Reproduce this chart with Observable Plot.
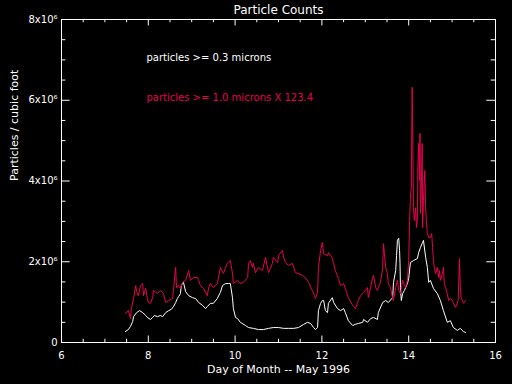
<!DOCTYPE html>
<html><head><meta charset="utf-8">
<script src="https://cdn.jsdelivr.net/npm/d3@7"></script>
<script src="https://cdn.jsdelivr.net/npm/@observablehq/plot@0.6"></script>
<style>body{margin:0;background:#000;overflow:hidden}</style>
</head><body><div id="chart"></div>
<script>
const title = "Particle Counts";
const xLabel = "Day of Month -- May 1996";
const yLabel = "Particles / cubic foot";
const legendWhite = "particles >= 0.3 microns";
const legendRed = "particles >= 1.0 microns X 123.4";
const xTicks = [6, 8, 10, 12, 14, 16];
const yTicks = [0, 2, 4, 6, 8];
const yTickLabels = ["0", "2x10\u2076", "4x10\u2076", "6x10\u2076", "8x10\u2076"];

// particles >= 0.3 microns (millions per cubic foot)
const whiteDay = [7.47,7.54,7.59,7.64,7.66,7.73,7.80,7.87,7.94,7.98,8.05,8.10,8.14,8.21,8.28,8.33,8.40,8.47,8.53,8.58,8.63,8.67,8.70,8.74,8.76,8.81,8.86,8.93,9.02,9.09,9.16,9.25,9.32,9.36,9.43,9.50,9.59,9.66,9.71,9.78,9.85,9.89,9.94,9.96,10.01,10.06,10.12,10.24,10.31,10.42,10.54,10.65,10.77,10.88,11.00,11.12,11.23,11.35,11.46,11.58,11.67,11.74,11.81,11.85,11.90,11.92,11.97,12.01,12.04,12.08,12.13,12.15,12.24,12.27,12.36,12.43,12.50,12.54,12.61,12.71,12.77,12.84,12.94,12.96,13.05,13.12,13.19,13.28,13.30,13.40,13.47,13.53,13.63,13.65,13.70,13.72,13.74,13.77,13.79,13.80,13.81,13.83,13.86,13.90,13.93,13.97,14.00,14.04,14.11,14.20,14.23,14.27,14.32,14.34,14.39,14.43,14.46,14.50,14.57,14.66,14.73,14.80,14.89,14.96,15.03,15.12,15.19,15.26,15.31];
const whiteVal = [0.27,0.32,0.40,0.52,0.64,0.74,0.79,0.74,0.67,0.62,0.57,0.62,0.67,0.64,0.67,0.64,0.74,0.79,0.82,0.89,0.99,1.09,1.14,1.21,1.41,1.49,1.26,1.16,1.11,1.09,0.99,0.92,0.84,0.89,0.97,0.97,1.09,1.24,1.41,1.46,1.46,1.46,1.11,0.84,0.62,0.59,0.50,0.42,0.37,0.35,0.32,0.32,0.35,0.37,0.37,0.35,0.35,0.35,0.37,0.45,0.50,0.47,0.37,0.32,0.37,0.79,0.97,1.04,1.04,0.79,0.74,0.97,1.11,0.99,0.84,0.79,0.84,0.74,0.54,0.42,0.45,0.47,0.50,0.57,0.50,0.59,0.62,0.57,0.74,0.99,1.04,0.99,1.11,1.49,1.78,2.15,2.53,2.58,2.28,1.96,1.36,1.04,1.21,1.29,1.36,1.46,1.59,1.98,2.03,2.08,2.23,2.35,2.48,2.53,2.11,1.86,1.49,1.54,1.34,1.21,1.04,0.79,0.50,0.54,0.37,0.30,0.35,0.27,0.25];

// particles >= 1.0 microns x 123.4 (millions per cubic foot)
const redDay = [7.47,7.54,7.59,7.61,7.66,7.71,7.73,7.77,7.82,7.87,7.89,7.94,7.98,8.00,8.05,8.10,8.12,8.21,8.28,8.35,8.40,8.47,8.56,8.58,8.63,8.65,8.70,8.74,8.79,8.86,8.93,8.97,9.04,9.13,9.16,9.20,9.27,9.36,9.39,9.43,9.50,9.59,9.66,9.73,9.82,9.89,9.94,9.96,10.06,10.12,10.19,10.29,10.31,10.35,10.40,10.42,10.47,10.54,10.63,10.70,10.75,10.77,10.86,10.88,10.98,11.00,11.09,11.12,11.16,11.23,11.32,11.39,11.46,11.55,11.62,11.69,11.78,11.83,11.85,11.90,11.92,11.97,12.01,12.04,12.13,12.15,12.24,12.27,12.31,12.38,12.43,12.50,12.54,12.61,12.71,12.77,12.82,12.84,12.89,12.96,13.05,13.07,13.12,13.17,13.19,13.24,13.28,13.30,13.35,13.40,13.42,13.44,13.47,13.51,13.53,13.58,13.63,13.65,13.70,13.74,13.77,13.81,13.86,13.88,13.93,13.97,14.00,14.02,14.04,14.06,14.08,14.09,14.11,14.13,14.16,14.18,14.20,14.21,14.23,14.25,14.26,14.27,14.29,14.31,14.32,14.34,14.37,14.39,14.41,14.43,14.46,14.50,14.53,14.55,14.57,14.59,14.62,14.66,14.69,14.71,14.73,14.78,14.80,14.82,14.85,14.89,14.92,14.96,15.01,15.03,15.08,15.12,15.14,15.17,15.19,15.21,15.24,15.26,15.31];
const redVal = [0.72,0.79,0.59,0.84,1.09,1.41,1.26,1.16,1.41,1.46,1.16,1.34,1.09,0.99,0.97,1.11,1.29,1.21,1.29,1.21,0.99,1.04,1.09,1.29,1.86,1.36,1.41,1.34,1.49,1.54,1.78,1.54,1.61,1.61,1.54,1.41,1.34,1.16,1.36,1.46,1.36,1.46,1.86,1.71,1.96,2.03,1.71,1.46,1.54,1.46,1.49,1.61,1.96,2.03,1.86,1.96,1.73,1.86,1.78,2.11,1.83,1.73,1.96,2.11,1.98,2.15,2.28,2.11,1.98,1.91,1.96,1.73,1.71,1.66,1.61,1.49,1.29,1.16,1.09,1.24,1.86,2.28,2.48,2.20,2.15,2.23,2.08,1.96,1.78,1.59,1.41,1.46,1.34,1.11,0.92,0.84,0.97,1.04,1.16,1.24,1.36,1.11,1.36,1.61,1.66,1.36,1.29,1.36,1.49,1.86,2.45,2.20,1.86,1.71,1.46,1.36,1.09,1.04,1.36,1.54,1.29,1.21,1.54,1.46,1.36,1.54,2.03,3.02,3.59,3.84,6.32,5.50,3.34,3.02,3.34,2.85,3.02,4.33,4.93,4.01,5.18,3.20,3.76,4.93,2.85,3.52,4.26,3.34,2.95,2.70,2.60,2.60,2.70,2.35,2.03,1.86,1.71,1.86,1.61,1.78,1.54,1.71,1.86,1.46,1.36,1.21,1.04,1.09,1.04,0.97,0.87,0.97,1.04,2.08,1.36,1.11,1.04,0.97,1.04];

const RED = "#e8004f";
const white = whiteDay.map((d, i) => ({day: d, v: whiteVal[i]}));
const red = redDay.map((d, i) => ({day: d, v: redVal[i]}));

const xMinor = d3.range(6, 16.001, 0.5).filter(t => !xTicks.includes(t));
const yMinor = d3.range(0, 8.001, 0.5).filter(t => !yTicks.includes(t));
const xLen = 0.16, xLenMin = 0.08;   // tick lengths in y units
const yLen = 0.2, yLenMin = 0.1;     // tick lengths in x units

const chart = Plot.plot({
  width: 512, height: 384,
  marginLeft: 61, marginRight: 17, marginTop: 19, marginBottom: 42,
  x: {domain: [6, 16]},
  y: {domain: [0, 8]},
  style: {background: "black", color: "white", fontFamily: "DejaVu Sans", fontSize: "10px"},
  marks: [
    Plot.axisX({ticks: xTicks, tickSize: 0, tickPadding: 9, label: null, tickFormat: d => String(d)}),
    Plot.axisY({ticks: yTicks, tickSize: 0, tickPadding: 4, label: null, tickFormat: d => yTickLabels[yTicks.indexOf(d)]}),
    Plot.ruleX(xTicks, {x: d => d, y1: 0, y2: xLen, stroke: "white"}),
    Plot.ruleX(xTicks, {x: d => d, y1: 8, y2: 8 - xLen, stroke: "white"}),
    Plot.ruleX(xMinor, {x: d => d, y1: 0, y2: xLenMin, stroke: "white"}),
    Plot.ruleX(xMinor, {x: d => d, y1: 8, y2: 8 - xLenMin, stroke: "white"}),
    Plot.ruleY(yTicks, {y: d => d, x1: 6, x2: 6 + yLen, stroke: "white"}),
    Plot.ruleY(yTicks, {y: d => d, x1: 16, x2: 16 - yLen, stroke: "white"}),
    Plot.ruleY(yMinor, {y: d => d, x1: 6, x2: 6 + yLenMin, stroke: "white"}),
    Plot.ruleY(yMinor, {y: d => d, x1: 16, x2: 16 - yLenMin, stroke: "white"}),
    Plot.frame({stroke: "white"}),
    Plot.line(white, {x: "day", y: "v", stroke: "white", strokeWidth: 1}),
    Plot.line(red, {x: "day", y: "v", stroke: RED, strokeWidth: 1}),
    Plot.text([title], {frameAnchor: "top", lineAnchor: "middle", dy: -9, fontSize: 12, fill: "white"}),
    Plot.text([xLabel], {frameAnchor: "bottom", lineAnchor: "middle", dy: 27, fontSize: 11, fill: "white"}),
    Plot.text([yLabel], {frameAnchor: "left", dx: -47, rotate: -90, fontSize: 11, fill: "white"}),
    Plot.text([legendWhite], {frameAnchor: "top-left", dx: 85, dy: 34, textAnchor: "start", fontSize: 10, fill: "white"}),
    Plot.text([legendRed], {frameAnchor: "top-left", dx: 85, dy: 74, textAnchor: "start", fontSize: 10, fill: RED})
  ]
});
document.getElementById("chart").append(chart);
</script>
</body></html>
